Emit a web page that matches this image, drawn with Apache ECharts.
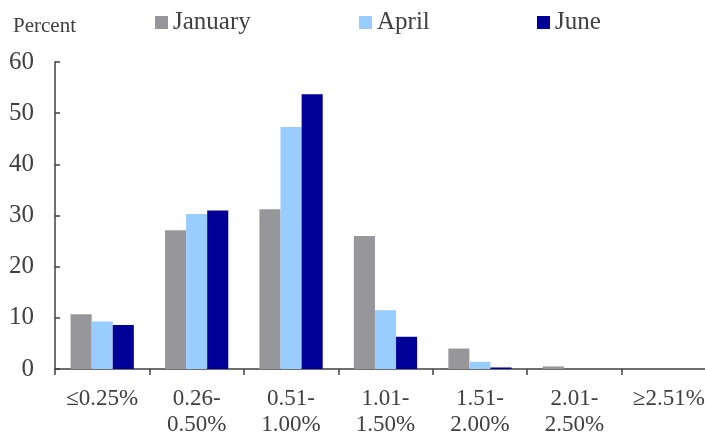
<!DOCTYPE html>
<html>
<head>
<meta charset="utf-8">
<script src="https://cdn.jsdelivr.net/npm/echarts@6/dist/echarts.min.js"></script>
<style>
  html, body { margin: 0; padding: 0; background: #fff; }
  #chart { width: 705px; height: 434px; }
</style>
</head>
<body>
<div id="chart"></div>
<script>
const categories = ['≤0.25%', '0.26-\n0.50%', '0.51-\n1.00%', '1.01-\n1.50%', '1.51-\n2.00%', '2.01-\n2.50%', '≥2.51%'];
const january = [10.7, 27.1, 31.2, 26.0, 4.0, 0.5, 0];
const april = [9.3, 30.3, 47.3, 11.5, 1.4, 0, 0];
const june = [8.6, 31.0, 53.7, 6.3, 0.3, 0, 0];
const yTicks = [0, 10, 20, 30, 40, 50, 60];

const font = 'Liberation Serif';
const textColor = '#404040';

function legendAt(name, left) {
  return {
    data: [name],
    left: left,
    top: 5,
    itemWidth: 13,
    itemHeight: 13,
    itemGap: 5,
    icon: 'rect',
    textStyle: { fontFamily: font, fontSize: 25, color: textColor }
  };
}

const chart = echarts.init(document.getElementById('chart'));
chart.setOption({
  animation: false,
  title: {
    text: 'Percent',
    left: 8,
    top: 11,
    textStyle: { fontFamily: font, fontSize: 21, fontWeight: 'normal', color: textColor }
  },
  legend: [
    legendAt('January', 150),
    legendAt('April', 354),
    legendAt('June', 532)
  ],
  grid: { left: 55, width: 661, top: 62, bottom: 65, outerBoundsMode: 'none', containLabel: false },
  xAxis: {
    type: 'category',
    data: categories,
    axisLine: { lineStyle: { color: textColor, width: 1.5 } },
    axisTick: { show: true, length: 6, lineStyle: { color: textColor, width: 1.5 } },
    axisLabel: {
      fontFamily: font, fontSize: 23, color: textColor,
      margin: 17, lineHeight: 26, interval: 0
    }
  },
  yAxis: {
    type: 'value',
    min: yTicks[0],
    max: yTicks[yTicks.length - 1],
    interval: 10,
    axisLine: { show: true, lineStyle: { color: textColor, width: 1.5 } },
    axisTick: { show: true, inside: true, length: 5, lineStyle: { color: textColor, width: 1.5 } },
    splitLine: { show: false },
    axisLabel: { fontFamily: font, fontSize: 25, color: textColor, margin: 21 }
  },
  series: [
    { name: 'January', type: 'bar', data: january, itemStyle: { color: '#97979b' }, barGap: '0%', barCategoryGap: '33%' },
    { name: 'April', type: 'bar', data: april, itemStyle: { color: '#99ccff' } },
    { name: 'June', type: 'bar', data: june, itemStyle: { color: '#000099' } }
  ]
});
</script>
</body>
</html>
